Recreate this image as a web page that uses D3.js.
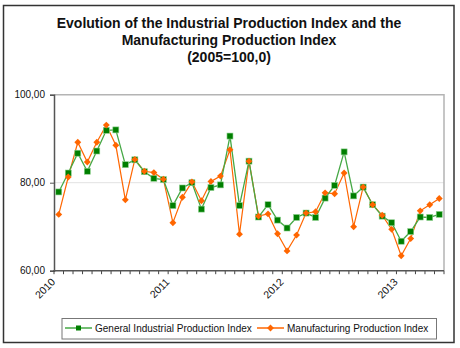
<!DOCTYPE html>
<html>
<head>
<meta charset="utf-8">
<script src="https://cdn.jsdelivr.net/npm/d3@7"></script>
<style>
  html, body { margin: 0; padding: 0; background: #fff; }
  svg { display: block; font-family: "Liberation Sans", Arial, Helvetica, sans-serif; }
</style>
</head>
<body>
<svg id="chart" width="460" height="348"></svg>
<script>
// Monthly categories, Jan 2010 - May 2013
const months = [
  '2010-01','2010-02','2010-03','2010-04','2010-05','2010-06','2010-07','2010-08','2010-09','2010-10','2010-11','2010-12',
  '2011-01','2011-02','2011-03','2011-04','2011-05','2011-06','2011-07','2011-08','2011-09','2011-10','2011-11','2011-12',
  '2012-01','2012-02','2012-03','2012-04','2012-05','2012-06','2012-07','2012-08','2012-09','2012-10','2012-11','2012-12',
  '2013-01','2013-02','2013-03','2013-04','2013-05'
];

const industrial = [
  77.9, 82.2, 86.7, 82.6, 87.2, 91.9, 92.0, 84.1, 85.2, 82.5,
  81.0, 80.7, 74.8, 78.8, 80.0, 74.0, 78.9, 79.5, 90.6, 74.8,
  84.9, 72.2, 75.0, 71.5, 69.7, 72.1, 73.1, 72.1, 76.5, 79.4,
  87.0, 77.0, 79.0, 75.0, 72.4, 70.9, 66.7, 68.9, 72.2, 72.1, 72.8
];

const manufacturing = [
  72.8, 81.3, 89.2, 84.7, 89.2, 93.1, 88.5, 76.1, 85.3, 82.6,
  82.3, 80.8, 70.9, 76.7, 80.2, 75.9, 80.3, 81.5, 87.5, 68.3,
  84.9, 72.4, 72.9, 68.4, 64.5, 68.1, 73.1, 73.4, 77.7, 77.5,
  82.2, 70.0, 79.0, 75.0, 72.6, 69.4, 63.4, 67.3, 73.6, 75.0, 76.4
];

const yearLabels = ['2010', '2011', '2012', '2013'];
const yTicks = [60, 80, 100];

const titleLines = [
  'Evolution of the Industrial Production Index and the',
  'Manufacturing Production Index',
  '(2005=100,0)'
];

const seriesNames = ['General Industrial Production Index', 'Manufacturing Production Index'];

const green = '#007f00', greenLine = '#45a845';
const orange = '#ff6600';

const svg = d3.select('#chart');

// outer chart frame
svg.append('rect')
  .attr('x', 3.5).attr('y', 5.5)
  .attr('width', 450.5).attr('height', 337)
  .attr('fill', '#fff')
  .attr('stroke', '#333').attr('stroke-width', 1.5);

// title
svg.append('g').selectAll('text')
  .data(titleLines)
  .join('text')
    .attr('x', 229)
    .attr('y', (d, i) => 28 + i * 17)
    .attr('text-anchor', 'middle')
    .attr('font-size', 14)
    .attr('font-weight', 'bold')
    .attr('fill', '#111')
    .text(d => d);

const plot = { left: 54, right: 444, top: 94.7, bottom: 270.7 };

const x = d3.scaleBand().domain(months).range([plot.left, plot.right]).padding(0);
const y = d3.scaleLinear().domain([60, 100]).range([plot.bottom, plot.top]);

const locale = d3.formatLocale({ decimal: ',', thousands: '.', grouping: [3], currency: ['', ''] });
const fmt = locale.format('.2f');

// gridlines
svg.append('g').selectAll('line')
  .data(yTicks.filter(v => v > 60 && v < 100))
  .join('line')
    .attr('x1', plot.left).attr('x2', plot.right)
    .attr('y1', d => y(d)).attr('y2', d => y(d))
    .attr('stroke', '#e2e2e2').attr('stroke-width', 1);

// plot area border (top / right)
svg.append('path')
  .attr('d', `M${plot.left},${plot.top}H${plot.right}V${plot.bottom}`)
  .attr('fill', 'none')
  .attr('stroke', '#b4b4b4').attr('stroke-width', 1.5);

// y axis
const yAxis = svg.append('g')
  .attr('transform', `translate(${plot.left},0)`)
  .call(d3.axisLeft(y).tickValues(yTicks).tickFormat(fmt).tickSize(4).tickPadding(5));
yAxis.select('.domain').attr('stroke', '#555').attr('stroke-width', 1.5);
yAxis.selectAll('.tick line').attr('stroke', '#555');
yAxis.selectAll('.tick text')
  .attr('font-size', 10)
  .attr('fill', '#111')
  .attr('font-family', '"Liberation Sans", Arial, sans-serif');

// x axis: a tick at every month boundary
const boundaries = months.map(m => x(m)).concat([plot.right]);
svg.append('g').selectAll('line')
  .data(boundaries)
  .join('line')
    .attr('x1', d => d).attr('x2', d => d)
    .attr('y1', plot.bottom).attr('y2', plot.bottom + 3.5)
    .attr('stroke', '#444').attr('stroke-width', 1);
svg.append('line')
  .attr('x1', plot.left - 0.75).attr('x2', plot.right)
  .attr('y1', plot.bottom).attr('y2', plot.bottom)
  .attr('stroke', '#555').attr('stroke-width', 1.5);

// year labels at January
svg.append('g').selectAll('text')
  .data(yearLabels)
  .join('text')
    .attr('transform', d => `translate(${x(d + '-01') + 2},${plot.bottom + 12}) rotate(-45)`)
    .attr('text-anchor', 'end')
    .attr('font-size', 10.5)
    .attr('fill', '#111')
    .text(d => d);

const line = d3.line()
  .x((d, i) => x(months[i]) + x.bandwidth() / 2)
  .y(d => y(d));

const diamond = d3.symbol().type(d3.symbolDiamond2).size(30);

// manufacturing series
svg.append('path')
  .datum(manufacturing)
  .attr('d', line)
  .attr('fill', 'none').attr('stroke', orange).attr('stroke-width', 1.2);

// industrial series
svg.append('path')
  .datum(industrial)
  .attr('d', line)
  .attr('fill', 'none').attr('stroke', greenLine).attr('stroke-width', 1.3);

svg.append('g').selectAll('rect')
  .data(industrial)
  .join('rect')
    .attr('x', (d, i) => x(months[i]) + x.bandwidth() / 2 - 3)
    .attr('y', d => y(d) - 3)
    .attr('width', 6).attr('height', 6)
    .attr('fill', green)
    .attr('stroke', '#8fd18f').attr('stroke-width', 0.6);

svg.append('g').selectAll('path')
  .data(manufacturing)
  .join('path')
    .attr('transform', (d, i) => `translate(${x(months[i]) + x.bandwidth() / 2},${y(d)})`)
    .attr('d', diamond)
    .attr('fill', orange);

// legend
const legend = svg.append('g');
legend.append('rect')
  .attr('x', 62).attr('y', 318.5)
  .attr('width', 374.5).attr('height', 20.5)
  .attr('fill', '#fff')
  .attr('stroke', '#777').attr('stroke-width', 1);

const legendItems = [
  { name: seriesNames[0], x0: 65, color: greenLine, marker: 'square' },
  { name: seriesNames[1], x0: 257, color: orange, marker: 'diamond' }
];
const ly = 328;
legendItems.forEach(it => {
  legend.append('line')
    .attr('x1', it.x0).attr('x2', it.x0 + 27)
    .attr('y1', ly).attr('y2', ly)
    .attr('stroke', it.color).attr('stroke-width', 1.5);
  if (it.marker === 'square') {
    legend.append('rect')
      .attr('x', it.x0 + 13.5 - 2.5).attr('y', ly - 2.5)
      .attr('width', 5).attr('height', 5)
      .attr('fill', green);
  } else {
    legend.append('path')
      .attr('transform', `translate(${it.x0 + 13.5},${ly})`)
      .attr('d', diamond)
      .attr('fill', orange);
  }
  legend.append('text')
    .attr('x', it.x0 + 30).attr('y', ly + 3.5)
    .attr('font-size', 10)
    .attr('fill', '#111')
    .text(it.name);
});
</script>
</body>
</html>
